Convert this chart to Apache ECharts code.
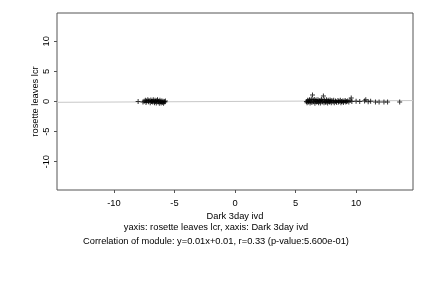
<!DOCTYPE html>
<html>
<head>
<meta charset="utf-8">
<script src="https://cdn.jsdelivr.net/npm/echarts@6/dist/echarts.min.js"></script>
<style>html,body{margin:0;padding:0;background:#fff;}#c{width:432px;height:288px;}</style>
</head>
<body>
<div id="c"></div>
<script>
// Data
var darkX = [-8.0,-7.6,-7.5,-7.4,-7.35,-7.3,-7.2,-7.15,-7.1,-7.0,-6.95,-6.9,-6.85,-6.8,-6.75,-6.7,-6.65,-6.6,-6.55,-6.5,-6.45,-6.4,-6.35,-6.3,-6.25,-6.2,-6.15,-6.1,-6.05,-6.0,-5.95,-5.9,-5.85,-5.8,-5.75,
  5.9,5.95,6.0,6.05,6.1,6.15,6.2,6.25,6.3,6.35,6.4,6.45,6.5,6.55,6.6,6.65,6.7,6.75,6.8,6.85,6.9,6.95,7.0,7.05,7.1,7.15,7.2,7.25,7.3,7.35,7.4,7.45,7.5,7.55,7.6,7.65,7.7,7.75,7.8,7.85,7.9,7.95,8.0,8.1,8.15,8.2,8.3,8.35,8.4,8.5,8.55,8.6,8.7,8.75,8.8,8.9,8.95,9.0,9.1,9.15,9.2,9.3,9.4,9.5,9.6,9.65,
  10.0,10.3,10.7,10.8,11.0,11.2,11.6,11.9,12.3,12.6,13.6];
var leavesY = [0.0,-0.1,0.05,0.2,-0.15,0.1,0.3,-0.05,0.15,-0.2,0.25,0.0,0.1,-0.1,0.3,0.05,-0.2,0.2,0.0,-0.25,0.15,0.3,-0.1,0.05,-0.3,0.2,-0.05,-0.25,0.1,-0.15,0.05,-0.3,0.0,-0.1,0.1,
  0.0,-0.2,0.2,-0.1,0.1,0.3,-0.25,0.05,0.4,-0.15,1.1,0.2,-0.05,0.35,-0.3,0.1,0.25,-0.1,0.0,0.3,-0.2,0.15,0.05,-0.25,0.2,0.35,-0.1,0.1,0.9,-0.2,0.25,0.0,-0.15,0.3,0.1,-0.25,0.2,0.0,-0.1,0.25,0.05,-0.2,0.15,-0.05,0.2,-0.2,0.1,0.0,-0.15,0.15,-0.1,0.05,0.2,-0.2,0.0,0.1,-0.15,0.05,0.15,-0.1,0.0,0.1,-0.1,0.2,0.6,0.0,
  0.05,0.0,0.1,0.3,-0.05,0.05,-0.1,-0.1,-0.1,-0.1,-0.1];
var xTicks = [-10, -5, 0, 5, 10];
var yTicks = [-10, -5, 0, 5, 10];
var slope = 0.01, intercept = 0.01;
var axisMin = -14.7, axisMax = 14.7;
var xLabel = 'Dark 3day ivd';
var yLabel = 'rosette leaves lcr';
var line1 = 'yaxis: rosette leaves lcr, xaxis: Dark 3day ivd';
var line2 = 'Correlation of module: y=0.01x+0.01, r=0.33 (p-value:5.600e-01)';

var pts = darkX.map(function (x, i) { return [x, leavesY[i]]; });
var fit = [[axisMin, slope * axisMin + intercept], [axisMax, slope * axisMax + intercept]];
var font = 'Liberation Sans, Arial, sans-serif';
var fs = 9.3;

var chart = echarts.init(document.getElementById('c'), null, {renderer: 'canvas'});
chart.setOption({
  animation: false,
  backgroundColor: '#fff',
  grid: {left: 57, right: 19, top: 13, bottom: 98, show: true, borderColor: '#555', borderWidth: 1, backgroundColor: 'transparent'},
  title: [
    {text: line1, left: 'center', top: 218, textStyle: {fontFamily: font, fontSize: fs, fontWeight: 'normal', color: '#000'}},
    {text: line2, left: 'center', top: 232, textStyle: {fontFamily: font, fontSize: fs, fontWeight: 'normal', color: '#000'}}
  ],
  xAxis: {
    type: 'value', min: axisMin, max: axisMax,
    name: xLabel, nameLocation: 'middle', nameGap: 22, nameMoveOverlap: false,
    nameTextStyle: {fontFamily: font, fontSize: fs, color: '#000'},
    axisLine: {show: false, onZero: false},
    axisTick: {show: true, inside: false, length: 3, customValues: xTicks, lineStyle: {color: '#555'}},
    axisLabel: {customValues: xTicks, fontFamily: font, fontSize: fs, color: '#000', margin: 9},
    splitLine: {show: false}
  },
  yAxis: {
    type: 'value', min: axisMin, max: axisMax,
    name: yLabel, nameLocation: 'middle', nameGap: 17, nameRotate: 90, nameMoveOverlap: false,
    nameTextStyle: {fontFamily: font, fontSize: fs, color: '#000'},
    axisLine: {show: false, onZero: false},
    axisTick: {show: true, inside: false, length: 3, customValues: yTicks, lineStyle: {color: '#555'}},
    axisLabel: {customValues: yTicks, rotate: 90, fontFamily: font, fontSize: fs, color: '#000', margin: 6},
    splitLine: {show: false}
  },
  series: [
    {type: 'line', data: fit, symbol: 'none', lineStyle: {color: '#c8c8c8', width: 1}, z: 1, silent: true},
    {type: 'scatter', data: pts, symbol: 'path://M4,0H6V4H10V6H6V10H4V6H0V4H4Z', symbolSize: 5,
     itemStyle: {color: '#000'}, z: 2}
  ]
});
</script>
</body>
</html>
